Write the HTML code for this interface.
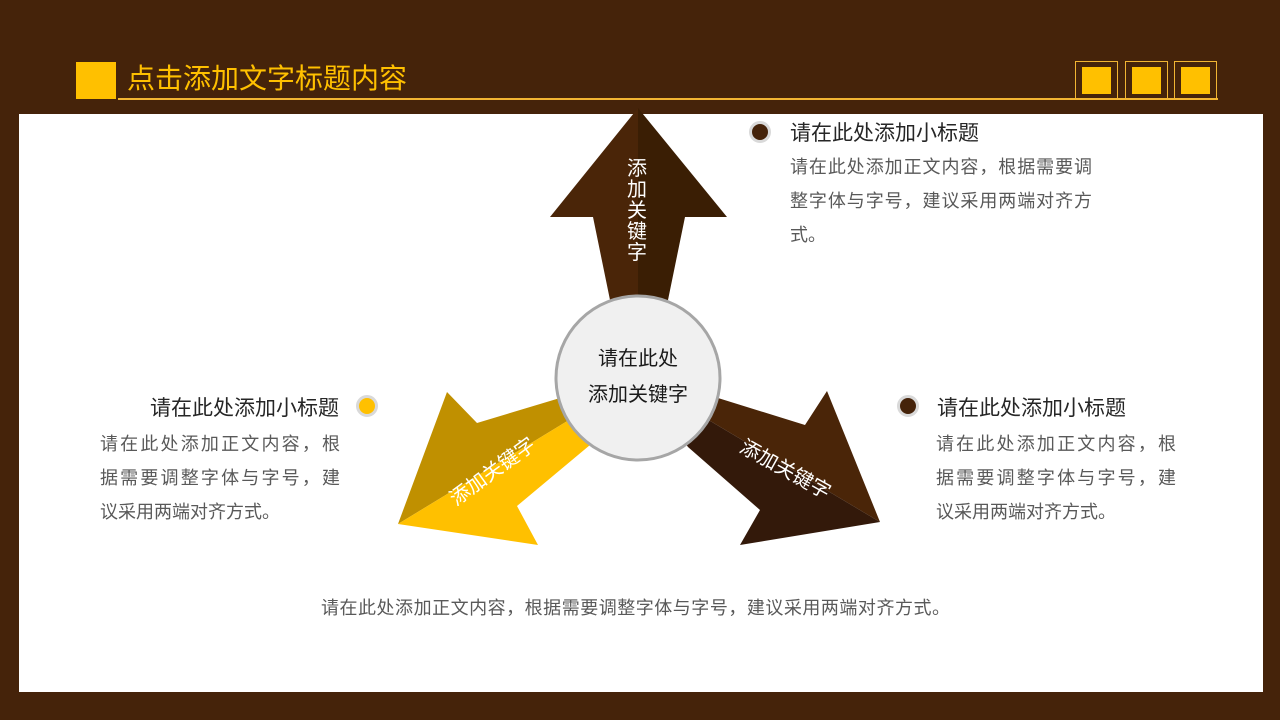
<!DOCTYPE html>
<html><head><meta charset="utf-8"><style>
body{margin:0;width:1280px;height:720px;background:#45230a;position:relative;overflow:hidden;font-family:"Liberation Sans","Noto Sans CJK SC",sans-serif}
.a{position:absolute}
.panel{left:19px;top:114px;width:1244px;height:578px;background:#fff}
.sq{border:1.5px solid #f2b533;box-sizing:border-box}
.sq div{position:absolute;left:6px;top:5px;right:6px;bottom:5px;background:#ffc000}
.h{font-size:21px;color:#262626}
.p{font-size:18px;color:#595959;line-height:34px}
.p div{text-align:justify;text-align-last:justify;white-space:nowrap}
.p div.l{text-align-last:left}
.dot{width:22px;height:22px;border-radius:50%;box-sizing:border-box;border:3px solid #d9d9d9}
</style></head><body>
<div class="a" style="left:76px;top:62px;width:40px;height:37px;background:#ffc000"></div>
<div class="a" style="left:127px;top:60px;font-size:28px;color:#ffc000;line-height:38px">点击添加文字标题内容</div>
<div class="a" style="left:118px;top:98px;width:1100px;height:1.5px;background:#f2b533"></div>
<div class="a sq" style="left:1075px;top:61px;width:43px;height:39px"><div></div></div>
<div class="a sq" style="left:1125px;top:61px;width:43px;height:39px"><div></div></div>
<div class="a sq" style="left:1174px;top:61px;width:43px;height:39px"><div></div></div>
<div class="a panel"></div>
<svg class="a" style="left:0;top:0" width="1280" height="720">
<polygon points="638,108 550,217 593,217 610,300 638,300" fill="#4a2508"/>
<polygon points="638,108 727,217 685,217 668,300 638,300" fill="#3a1e04"/>
<polygon points="398,524 447,392 477,423 560,398 638,378" fill="#c09000"/>
<polygon points="398,524 538,545 517,506 590,445 638,378" fill="#ffc000"/>
<polygon points="880,522 827,391 805,425 718,398 638,378" fill="#4a2508"/>
<polygon points="880,522 740,545 760,510 688,447 638,378" fill="#33190a"/>
<circle cx="638" cy="378" r="82" fill="#f0f0f0" stroke="#a6a6a6" stroke-width="3"/>
<text x="638" y="365" font-size="20" text-anchor="middle" fill="#1a1a1a" font-family="Liberation Sans,Noto Sans CJK SC,sans-serif">请在此处</text>
<text x="638" y="401" font-size="20" text-anchor="middle" fill="#1a1a1a" font-family="Liberation Sans,Noto Sans CJK SC,sans-serif">添加关键字</text>
<g font-size="20" fill="#fff" font-family="Liberation Sans,Noto Sans CJK SC,sans-serif" text-anchor="middle">
<text x="637" y="175">添</text><text x="637" y="196">加</text><text x="637" y="217">关</text><text x="637" y="238">键</text><text x="637" y="259">字</text>
<text transform="translate(493,472) rotate(-36)" y="6">添加关键字</text>
<text transform="translate(785,470) rotate(29)" y="6">添加关键字</text>
</g>
</svg>
<div class="a dot" style="left:749px;top:121px;background:#45230a"></div>
<div class="a h" style="left:790px;top:117px">请在此处添加小标题</div>
<div class="a p" style="left:790px;top:150px;width:302px"><div>请在此处添加正文内容，根据需要调</div><div>整字体与字号，建议采用两端对齐方</div><div class="l">式。</div></div>
<div class="a dot" style="left:356px;top:395px;background:#ffc000"></div>
<div class="a h" style="left:150px;top:392px">请在此处添加小标题</div>
<div class="a p" style="left:100px;top:427px;width:240px"><div>请在此处添加正文内容，根</div><div>据需要调整字体与字号，建</div><div class="l">议采用两端对齐方式。</div></div>
<div class="a dot" style="left:897px;top:395px;background:#45230a"></div>
<div class="a h" style="left:937px;top:392px">请在此处添加小标题</div>
<div class="a p" style="left:936px;top:427px;width:240px"><div>请在此处添加正文内容，根</div><div>据需要调整字体与字号，建</div><div class="l">议采用两端对齐方式。</div></div>
<div class="a p" style="left:321px;top:591px;width:629px"><div>请在此处添加正文内容，根据需要调整字体与字号，建议采用两端对齐方式。</div></div>
</body></html>
